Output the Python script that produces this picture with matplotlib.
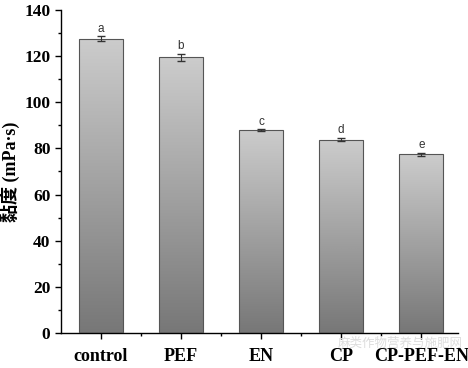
import numpy as np
import matplotlib.pyplot as plt
from matplotlib.colors import LinearSegmentedColormap
from matplotlib.ticker import MultipleLocator

groups = ['control', 'PEF', 'EN', 'CP', 'CP-PEF-EN']
viscosity = [127.5, 119.5, 88.0, 83.8, 77.5]
errors = [1.0, 1.5, 0.3, 0.8, 0.7]
letters = ['a', 'b', 'c', 'd', 'e']

fig = plt.figure(figsize=(4.68, 3.68), dpi=100)
ax = fig.add_axes([0.130, 0.095, 0.849, 0.878])

x = np.arange(len(groups))
bars = ax.bar(x, viscosity, width=0.55, color='none', edgecolor='#555555', linewidth=0.8, zorder=3)

# vertical gradient inside each bar, light on top
grey = LinearSegmentedColormap.from_list('g', ['#cccccc', '#777777'])
grad = np.linspace(0, 1, 256).reshape(-1, 1)
for b in bars:
    x0, w, h = b.get_x(), b.get_width(), b.get_height()
    im = ax.imshow(grad, cmap=grey, vmin=0, vmax=1, aspect='auto',
                   extent=[x0, x0 + w, 0, h], origin='upper', zorder=2)
    im.set_clip_path(b)

ax.errorbar(x, viscosity, yerr=errors, fmt='none', ecolor='#333333', elinewidth=0.8, capsize=3, zorder=4)
for xi, v, e, t in zip(x, viscosity, errors, letters):
    ax.text(xi, v + e + 0.6, t, ha='center', va='bottom', fontsize=8.5, family='Liberation Sans', color='#333333')

ax.set_xlim(-0.5, 4.46)
ax.set_ylim(0, 140)
ax.yaxis.set_major_locator(MultipleLocator(20))
ax.yaxis.set_minor_locator(MultipleLocator(10))
ax.set_xticks(x)
ax.set_xticks(x[:-1] + 0.5, minor=True)
ax.set_xticklabels(groups, fontsize=13, fontweight='bold', family='Liberation Serif')
for lab in ax.get_yticklabels():
    lab.set_fontsize(12.5)
    lab.set_fontweight('bold')
    lab.set_family('Liberation Serif')
ax.tick_params(direction='out', length=4, width=1)
ax.tick_params(which='minor', length=2.5, width=1)
ax.tick_params(axis='x', pad=7)
for s in ['top', 'right']:
    ax.spines[s].set_visible(False)
for s in ['left', 'bottom']:
    ax.spines[s].set_linewidth(1)

ax.set_ylabel('黏度 (mPa·s)', fontsize=13, fontweight='bold',
              family=['Liberation Serif', 'Noto Sans CJK SC'], labelpad=3)

fig.text(0.988, 0.058, '麻类作物营养与施肥网', ha='right', fontsize=9,
         color='#dddddd', family=['Noto Sans CJK SC'], zorder=10)

fig.savefig('out.png', dpi=100)
